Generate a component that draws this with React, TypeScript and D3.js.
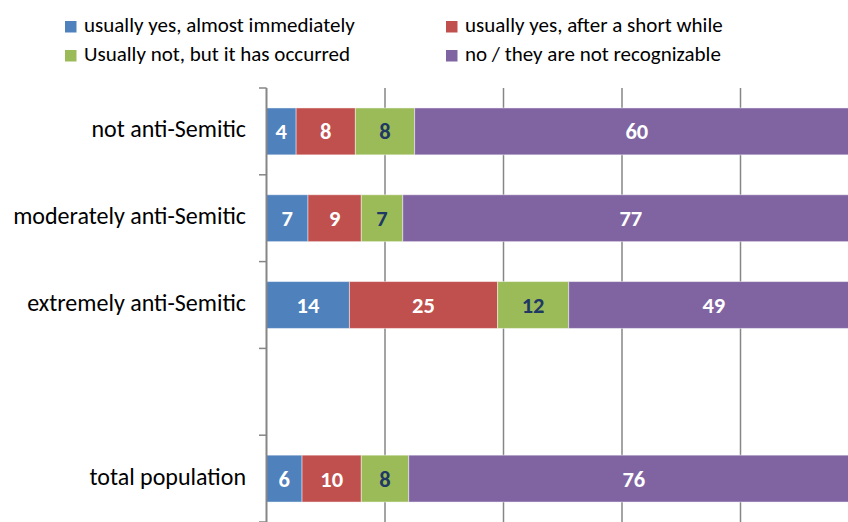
import React from "react";
import * as d3 from "d3";

const categories = ["not anti-Semitic", "moderately anti-Semitic", "extremely anti-Semitic", "", "total population"];
const seriesNames = [
  "usually yes, almost immediately",
  "usually yes, after a short while",
  "Usually not, but it has occurred",
  "no / they are not recognizable",
];
// bar lengths (as drawn)
const immediately = [5, 7, 14, null, 6];
const shortWhile = [10, 9, 25, null, 10];
const occurred = [10, 7, 12, null, 8];
const notRecognizable = [75, 77, 49, null, 76];
// data labels (as printed)
const immediatelyLabels = ["4", "7", "14", "", "6"];
const shortWhileLabels = ["8", "9", "25", "", "10"];
const occurredLabels = ["8", "7", "12", "", "8"];
const notRecognizableLabels = ["60", "77", "49", "", "76"];
const xTicks = [0, 20, 40, 60, 80, 100];

const colors = ["#4F81BD", "#C0504D", "#9BBB59", "#8064A2"];
const labelColors = ["#FFFFFF", "#FFFFFF", "#1F3864", "#FFFFFF"];
const FONT = "Carlito, Lato, 'Open Sans', sans-serif";

export default function App() {
  const W = 848, H = 522;
  const x = d3.scaleLinear().domain([0, 100]).range([266.5, 859]);
  const y = d3.scaleBand<number>().domain(d3.range(categories.length)).range([88, 522]).paddingInner(0.46).paddingOuter(0.23);
  const yTicks = d3.scaleBand<number>().domain(d3.range(categories.length)).range([88, 522]);
  const series = [immediately, shortWhile, occurred, notRecognizable];
  const labels = [immediatelyLabels, shortWhileLabels, occurredLabels, notRecognizableLabels];

  const legendPos = [
    { x: 65, y: 21 },
    { x: 446, y: 21 },
    { x: 65, y: 50 },
    { x: 446, y: 50 },
  ];

  return (
    <svg width={W} height={H} style={{ position: "absolute", left: 0, top: 0, background: "#fff" }}>
      {/* legend */}
      {seriesNames.map((n, i) => (
        <g key={n}>
          <rect x={legendPos[i].x} y={legendPos[i].y} width={11.5} height={11.5} fill={colors[i]} />
          <text x={legendPos[i].x + 19} y={legendPos[i].y + 11} fontFamily={FONT} fontSize={21} fill="#000">
            {n}
          </text>
        </g>
      ))}
      {/* gridlines */}
      {xTicks.slice(1).map((t) => (
        <line key={t} x1={x(t)} x2={x(t)} y1={88} y2={H} stroke="#868686" strokeWidth={1.5} />
      ))}
      {/* bars */}
      {categories.map((c, ci) => {
        let acc = 0;
        return (
          <g key={ci}>
            {series.map((s, si) => {
              const v = s[ci];
              if (v == null) return null;
              const x0 = x(acc);
              acc += v;
              const x1 = x(acc);
              const yy = y(ci)!;
              return (
                <g key={si}>
                  <rect x={x0} y={yy} width={x1 - x0} height={y.bandwidth()} fill={colors[si]} stroke="rgba(255,255,255,0.45)" strokeWidth={1} />
                  <text
                    x={(x0 + x1) / 2}
                    y={yy + y.bandwidth() / 2 + 8}
                    textAnchor="middle"
                    fontFamily={FONT}
                    fontWeight="bold"
                    fontSize={22.5}
                    fill={labelColors[si]}
                  >
                    {labels[si][ci]}
                  </text>
                </g>
              );
            })}
          </g>
        );
      })}
      {/* y axis */}
      <line x1={x(0)} x2={x(0)} y1={88} y2={H} stroke="#868686" strokeWidth={2} />
      {d3.range(categories.length + 1).map((i) => {
        const ty = i < categories.length ? yTicks(i)! : 522;
        return <line key={i} x1={259} x2={x(0)} y1={ty} y2={ty} stroke="#868686" strokeWidth={1.5} />;
      })}
      {categories.map((c, ci) => (
        <text
          key={ci}
          x={246}
          y={y(ci)! + y.bandwidth() / 2 + 6}
          textAnchor="end"
          fontFamily={FONT}
          fontSize={24}
          fill="#000"
        >
          {c}
        </text>
      ))}
    </svg>
  );
}
